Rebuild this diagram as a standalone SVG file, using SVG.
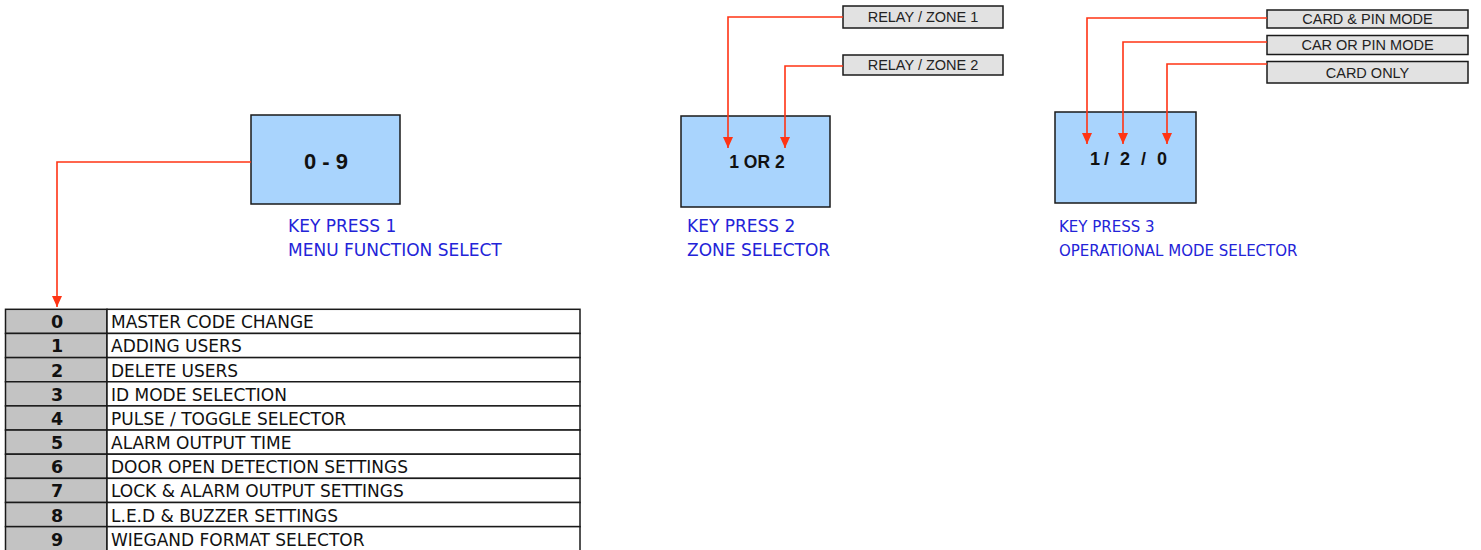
<svg xmlns="http://www.w3.org/2000/svg" width="1481" height="550" viewBox="0 0 1481 550">
<style>
.key{fill:#a9d4fd;stroke:#1a1a1a;stroke-width:1.5}
.opt{fill:#e2e2e2;stroke:#1a1a1a;stroke-width:1.5}
.keyt{font-family:"Liberation Sans",Arial,sans-serif;font-weight:bold;fill:#111;text-anchor:middle}
.optt{font-family:"Liberation Sans",Arial,sans-serif;font-size:14.5px;fill:#222;text-anchor:middle}
.lbl{font-family:"DejaVu Sans",Verdana,sans-serif;fill:#2323d8}
.conn{fill:none;stroke:#ff3414;stroke-width:1.6}
.cell{fill:#fff;stroke:#1a1a1a;stroke-width:1.5}
.num{fill:#c3c3c3;stroke:#1a1a1a;stroke-width:1.5}
.numt{font-family:"DejaVu Sans",Verdana,sans-serif;font-weight:bold;font-size:17.5px;fill:#111;text-anchor:middle}
.rowt{font-family:"DejaVu Sans",Verdana,sans-serif;font-size:17px;fill:#111}
</style>
<defs>
<marker id="arr" markerUnits="userSpaceOnUse" markerWidth="12" markerHeight="12" viewBox="0 0 12 12" refX="11" refY="6" orient="auto">
<path d="M0,1 L11,6 L0,11 Z" fill="#ff3414"/>
</marker>
</defs>
<rect width="1481" height="550" fill="#fff"/>

<g id="key1">
<rect class="key" x="251" y="115" width="149" height="89"/>
<text class="keyt" x="326" y="169" font-size="22">0 - 9</text>
<text class="lbl" x="288" y="232" font-size="17">KEY PRESS 1</text>
<text class="lbl" x="288" y="256" font-size="17">MENU FUNCTION SELECT</text>
</g>

<g id="key2">
<rect class="key" x="681" y="116" width="149" height="91"/>
<text class="keyt" x="757" y="168" font-size="17.5">1 OR 2</text>
<text class="lbl" x="687" y="232" font-size="17">KEY PRESS 2</text>
<text class="lbl" x="687" y="256" font-size="17">ZONE SELECTOR</text>
</g>

<g id="key3">
<rect class="key" x="1055" y="112" width="141" height="91"/>
<text class="keyt" y="165" font-size="18" style="text-anchor:start"><tspan x="1090">1</tspan><tspan x="1104">/</tspan><tspan x="1120">2</tspan><tspan x="1141">/</tspan><tspan x="1157">0</tspan></text>
<text class="lbl" x="1059" y="232" font-size="15">KEY PRESS 3</text>
<text class="lbl" x="1059" y="256" font-size="15">OPERATIONAL MODE SELECTOR</text>
</g>

<g id="relay1">
<rect class="opt" x="843" y="6" width="160" height="22"/>
<text class="optt" x="923" y="22">RELAY / ZONE 1</text>
</g>
<g id="relay2">
<rect class="opt" x="843" y="55" width="160" height="20"/>
<text class="optt" x="923" y="70">RELAY / ZONE 2</text>
</g>

<g id="mode1">
<rect class="opt" x="1267" y="10" width="201" height="18"/>
<text class="optt" x="1367.5" y="24">CARD &amp; PIN MODE</text>
</g>
<g id="mode2">
<rect class="opt" x="1267" y="35.5" width="201" height="19"/>
<text class="optt" x="1367.5" y="50">CAR OR PIN MODE</text>
</g>
<g id="mode3">
<rect class="opt" x="1267" y="61.5" width="201" height="21.5"/>
<text class="optt" x="1367.5" y="78">CARD ONLY</text>
</g>

<g id="menu-table">
<g transform="translate(0,309.3)">
<rect class="num" x="5.5" y="0" width="101.5" height="24.15"/><rect class="cell" x="107" y="0" width="473" height="24.15"/>
<text class="numt" x="57" y="19">0</text><text class="rowt" x="111" y="19">MASTER CODE CHANGE</text>
</g>
<g transform="translate(0,333.45)">
<rect class="num" x="5.5" y="0" width="101.5" height="24.15"/><rect class="cell" x="107" y="0" width="473" height="24.15"/>
<text class="numt" x="57" y="19">1</text><text class="rowt" x="111" y="19">ADDING USERS</text>
</g>
<g transform="translate(0,357.6)">
<rect class="num" x="5.5" y="0" width="101.5" height="24.15"/><rect class="cell" x="107" y="0" width="473" height="24.15"/>
<text class="numt" x="57" y="19">2</text><text class="rowt" x="111" y="19">DELETE USERS</text>
</g>
<g transform="translate(0,381.75)">
<rect class="num" x="5.5" y="0" width="101.5" height="24.15"/><rect class="cell" x="107" y="0" width="473" height="24.15"/>
<text class="numt" x="57" y="19">3</text><text class="rowt" x="111" y="19">ID MODE SELECTION</text>
</g>
<g transform="translate(0,405.9)">
<rect class="num" x="5.5" y="0" width="101.5" height="24.15"/><rect class="cell" x="107" y="0" width="473" height="24.15"/>
<text class="numt" x="57" y="19">4</text><text class="rowt" x="111" y="19">PULSE / TOGGLE SELECTOR</text>
</g>
<g transform="translate(0,430.05)">
<rect class="num" x="5.5" y="0" width="101.5" height="24.15"/><rect class="cell" x="107" y="0" width="473" height="24.15"/>
<text class="numt" x="57" y="19">5</text><text class="rowt" x="111" y="19">ALARM OUTPUT TIME</text>
</g>
<g transform="translate(0,454.2)">
<rect class="num" x="5.5" y="0" width="101.5" height="24.15"/><rect class="cell" x="107" y="0" width="473" height="24.15"/>
<text class="numt" x="57" y="19">6</text><text class="rowt" x="111" y="19">DOOR OPEN DETECTION SETTINGS</text>
</g>
<g transform="translate(0,478.35)">
<rect class="num" x="5.5" y="0" width="101.5" height="24.15"/><rect class="cell" x="107" y="0" width="473" height="24.15"/>
<text class="numt" x="57" y="19">7</text><text class="rowt" x="111" y="19">LOCK &amp; ALARM OUTPUT SETTINGS</text>
</g>
<g transform="translate(0,502.5)">
<rect class="num" x="5.5" y="0" width="101.5" height="24.15"/><rect class="cell" x="107" y="0" width="473" height="24.15"/>
<text class="numt" x="57" y="19">8</text><text class="rowt" x="111" y="19">L.E.D &amp; BUZZER SETTINGS</text>
</g>
<g transform="translate(0,526.65)">
<rect class="num" x="5.5" y="0" width="101.5" height="24.15"/><rect class="cell" x="107" y="0" width="473" height="24.15"/>
<text class="numt" x="57" y="19">9</text><text class="rowt" x="111" y="19">WIEGAND FORMAT SELECTOR</text>
</g>
</g>

<g id="connectors">
<path class="conn" d="M251,162 H57 V307" marker-end="url(#arr)"/>
<path class="conn" d="M843,17 H728 V148" marker-end="url(#arr)"/>
<path class="conn" d="M843,66 H785 V148" marker-end="url(#arr)"/>
<path class="conn" d="M1267,18 H1087 V144" marker-end="url(#arr)"/>
<path class="conn" d="M1267,42 H1123 V144" marker-end="url(#arr)"/>
<path class="conn" d="M1267,64 H1167 V144" marker-end="url(#arr)"/>
</g>
</svg>
